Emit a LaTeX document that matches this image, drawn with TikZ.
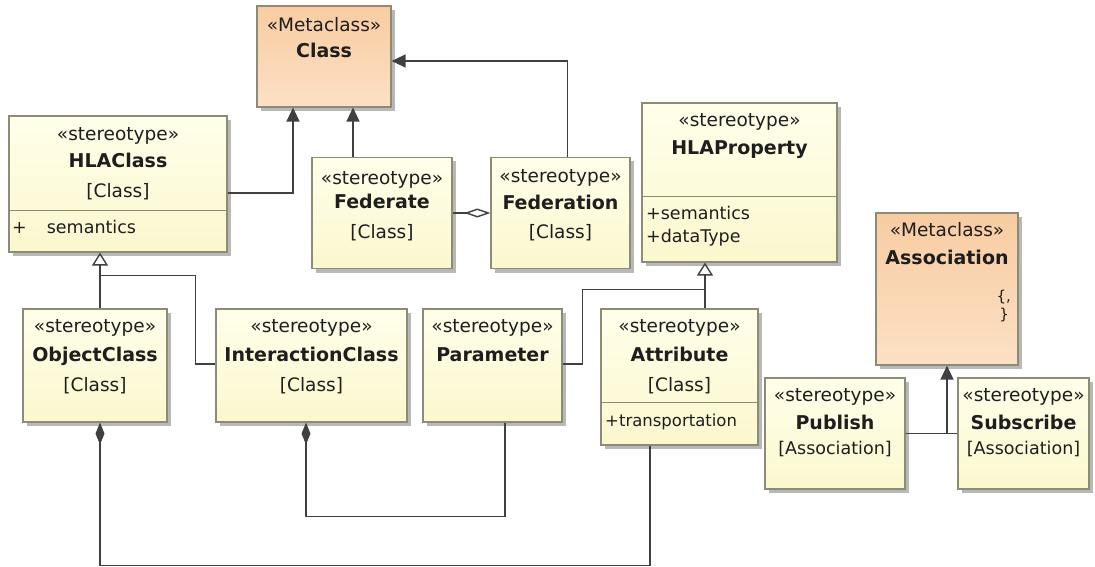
\documentclass[tikz,border=0pt]{standalone}
\usepackage{fontspec}
\setmainfont{DejaVu Sans}
\usepackage{tikz}
\usetikzlibrary{calc}
\usetikzlibrary{arrows.meta}
\usetikzlibrary{shadows}
\definecolor{lemonchiffon}{RGB}{255, 255, 234}
\definecolor{cornsilk}{RGB}{251, 247, 206}
\definecolor{apricot}{RGB}{248, 204, 162}
\definecolor{peach}{RGB}{252, 224, 196}
\definecolor{olivegray}{RGB}{140, 140, 118}
\definecolor{graphite}{RGB}{64, 64, 64}
\definecolor{inkblack}{RGB}{30, 30, 30}

\begin{document}
\begin{tikzpicture}[x=1pt, y=-1pt,
    box/.style={draw=olivegray, line width=1.2pt, inner sep=0pt,
        drop shadow={shadow xshift=4pt, shadow yshift=-4pt, fill=black!28, opacity=1}},
    stbox/.style={box, top color=lemonchiffon, bottom color=cornsilk},
    metabox/.style={box, top color=apricot, bottom color=peach},
    txt/.style={inner sep=0pt, text=inkblack, font=\fontsize{18.5}{20}\selectfont, text height=13pt, text depth=4pt},
    bold/.style={txt, font=\fontsize{19}{20}\selectfont\bfseries},
    feat/.style={txt, anchor=west, font=\fontsize{17.5}{20}\selectfont},
    sep/.style={olivegray, line width=1.2pt},
    wire/.style={graphite, line width=1.4pt},
    isa/.style={wire, -{Triangle[length=14pt, width=13pt]}},
    isaopen/.style={wire, -{Triangle[open, length=13pt, width=16pt, fill=white]}},
    aggr/.style={wire, -{Diamond[open, length=26pt, width=9pt, fill=white]}},
    comp/.style={wire, -{Diamond[length=22pt, width=9pt]}}]
            \useasboundingbox (0,0) rectangle (1095,567);
            \node[metabox, minimum width=134, minimum height=101] (class)       at ( 324.0,  56.5) {};
            \node[stbox,   minimum width=218, minimum height=136] (hlaclass)    at ( 118.0, 184.0) {};
            \node[stbox,   minimum width=140, minimum height=111] (federate)    at ( 382.0, 213.0) {};
            \node[stbox,   minimum width=139, minimum height=111] (federation)  at ( 560.5, 213.0) {};
            \node[stbox,   minimum width=195, minimum height=159] (hlaprop)     at ( 739.5, 182.5) {};
            \node[metabox, minimum width=142, minimum height=152] (association) at ( 947.0, 289.0) {};
            \node[stbox,   minimum width=144, minimum height=113] (objclass)    at (  95.0, 365.5) {};
            \node[stbox,   minimum width=191, minimum height=113] (interclass)  at ( 311.5, 365.5) {};
            \node[stbox,   minimum width=139, minimum height=113] (param)       at ( 492.5, 365.5) {};
            \node[stbox,   minimum width=157, minimum height=136] (attribute)   at ( 679.5, 377.0) {};
            \node[stbox,   minimum width=140, minimum height=111] (publish)     at ( 835.0, 433.5) {};
            \node[stbox,   minimum width=131, minimum height=111] (subscribe)   at (1023.5, 433.5) {};

            \draw[sep] ($(hlaclass.north west)+(0,95)$)  -- ($(hlaclass.north east)+(0,95)$);
            \draw[sep] ($(hlaprop.north west)+(0,94)$)   -- ($(hlaprop.north east)+(0,94)$);
            \draw[sep] ($(attribute.north west)+(0,94)$) -- ($(attribute.north east)+(0,94)$);

            \node[txt]  (class-st)       at ( 324.0,  27) {«Metaclass»};
            \node[bold] (class-nm)       at ( 324.0,  53) {Class};
            \node[txt]  (hlaclass-st)    at ( 118.0, 136) {«stereotype»};
            \node[bold] (hlaclass-nm)    at ( 118.0, 163) {HLAClass};
            \node[txt]  (hlaclass-kd)    at ( 118.0, 193) {[Class]};
            \node[feat] (hlaclass-at)    at (  12.0, 229) {+\hspace{20pt}semantics};
            \node[txt]  (federate-st)    at ( 382.0, 180) {«stereotype»};
            \node[bold] (federate-nm)    at ( 382.0, 204) {Federate};
            \node[txt]  (federate-kd)    at ( 382.0, 234) {[Class]};
            \node[txt]  (federation-st)  at ( 560.5, 178) {«stereotype»};
            \node[bold] (federation-nm)  at ( 560.5, 205) {Federation};
            \node[txt]  (federation-kd)  at ( 560.5, 234) {[Class]};
            \node[txt]  (hlaprop-st)     at ( 739.5, 122) {«stereotype»};
            \node[bold] (hlaprop-nm)     at ( 739.5, 150) {HLAProperty};
            \node[feat] (hlaprop-at1)    at ( 646.0, 215) {+semantics};
            \node[feat] (hlaprop-at2)    at ( 646.0, 238) {+dataType};
            \node[txt]  (association-st) at ( 947.0, 232) {«Metaclass»};
            \node[bold] (association-nm) at ( 947.0, 260) {Association};
            \node[txt, anchor=east, font=\fontsize{15}{16}\selectfont] (association-c1) at (1011, 297) {\{,};
            \node[txt, anchor=east, font=\fontsize{15}{16}\selectfont] (association-c2) at (1009, 315) {\}};
            \node[txt]  (objclass-st)    at (  95.0, 328) {«stereotype»};
            \node[bold] (objclass-nm)    at (  95.0, 357) {ObjectClass};
            \node[txt]  (objclass-kd)    at (  95.0, 387) {[Class]};
            \node[txt]  (interclass-st)  at ( 311.5, 328) {«stereotype»};
            \node[bold] (interclass-nm)  at ( 311.5, 357) {InteractionClass};
            \node[txt]  (interclass-kd)  at ( 311.5, 387) {[Class]};
            \node[txt]  (param-st)       at ( 492.5, 328) {«stereotype»};
            \node[bold] (param-nm)       at ( 492.5, 357) {Parameter};
            \node[txt]  (attribute-st)   at ( 679.5, 328) {«stereotype»};
            \node[bold] (attribute-nm)   at ( 679.5, 357) {Attribute};
            \node[txt]  (attribute-kd)   at ( 679.5, 387) {[Class]};
            \node[feat, font=\fontsize{16.5}{20}\selectfont] (attribute-at) at (605.0, 422) {+transportation};
            \node[txt]  (publish-st)     at ( 835.0, 397) {«stereotype»};
            \node[bold] (publish-nm)     at ( 835.0, 425) {Publish};
            \node[txt, font=\fontsize{17.5}{20}\selectfont] (publish-kd)   at ( 835.0, 450) {[Association]};
            \node[txt]  (subscribe-st)   at (1023.5, 397) {«stereotype»};
            \node[bold] (subscribe-nm)   at (1023.5, 425) {Subscribe};
            \node[txt, font=\fontsize{17.5}{20}\selectfont] (subscribe-kd) at (1023.5, 450) {[Association]};

            \draw[isa]     ($(hlaclass.east)+(0,9)$)       -| ($(class.south)+(-31,0)$);
            \draw[isa]     ($(federate.north)+(-29,0)$)    -- ($(class.south)+(29,0)$);
            \draw[isa]     ($(federation.north)+(7,0)$)    |- ($(class.east)+(0,4.5)$);
            \draw[aggr]    (federate.east)                 -- (federation.west);
            \draw[isaopen] ($(objclass.north)+(5,0)$)      -- ($(hlaclass.south)+(-18,0)$);
            \draw[wire]    ($(interclass.west)+(0,-1.5)$)  -- ++(-20,0) |- ($(hlaclass.south)+(-18,23)$);
            \draw[isaopen] ($(attribute.north)+(25.5,0)$)  -- ($(hlaprop.south)+(-34.5,0)$);
            \draw[wire]    ($(param.east)+(0,-1.5)$)       -- ++(20,0) |- ($(hlaprop.south)+(-34.5,27)$);
            \draw[comp]    ($(attribute.south)+(-29.5,0)$) -- ++(0,120) -| ($(objclass.south)+(5,0)$);
            \draw[comp]    ($(param.south)+(12.5,0)$)      -- ++(0,94)  -| ($(interclass.south)+(-5.5,0)$);
            \draw[wire]    (publish.east)                  -- (subscribe.west);
            \draw[isa]     (publish.east -| association.south) -- (association.south);
            \end{tikzpicture}
\end{document}
